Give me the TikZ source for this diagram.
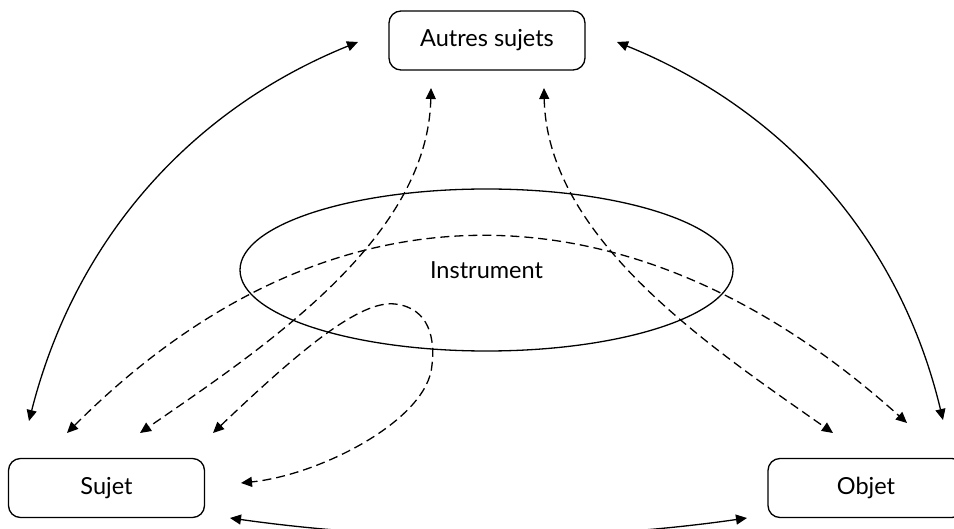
\documentclass[tikz,border=0pt]{standalone}
\usepackage{fontspec}
\setmainfont{Lato}
\usetikzlibrary{arrows.meta,shapes.geometric}
\begin{document}
\begin{tikzpicture}[x=1pt,y=-1pt,
  box/.style={draw,line width=1.3pt,rounded corners=12pt,minimum width=196pt,minimum height=59pt,inner sep=0pt,font=\fontsize{23.5}{28}\selectfont},
  oval/.style={draw,line width=1.3pt,ellipse,minimum width=493pt,minimum height=162pt,inner sep=0pt,font=\fontsize{23.5}{28}\selectfont},
  link/.style={line width=1.3pt,{Triangle[length=11pt,width=10pt]}-{Triangle[length=11pt,width=10pt]}},
  dlink/.style={link,dash pattern=on 9pt off 5pt}]
\useasboundingbox (0,0) rectangle (954,529);
\clip (0,0) rectangle (954,529);
\node[box] (autres) at (487,40.5) {Autres sujets};
\node[box] (sujet) at (106.5,488) {Sujet};
\node[box] (objet) at (866,488) {Objet};
\node[oval] (instr) at (486.5,270) {Instrument};
% free ends
\coordinate (a1) at (358,42);
\coordinate (a2) at (617,42);
\coordinate (a3) at (431,88);
\coordinate (a4) at (544,88);
\coordinate (s1) at (29,421);
\coordinate (s2) at (67,433);
\coordinate (s3) at (140,433);
\coordinate (s4) at (213,433);
\coordinate (s5) at (241,483);
\coordinate (s6) at (230,518);
\coordinate (o1) at (943,420);
\coordinate (o2) at (907,423);
\coordinate (o3) at (833,433);
\coordinate (o6) at (747,518);
% solid
\draw[link] (s1) .. controls (75,240) and (190,110) .. (a1);
\draw[link] (a2) .. controls (785,110) and (900,240) .. (o1);
\draw[link] (s6) .. controls (400,542) and (580,542) .. (o6);
% dashed
\draw[dlink] (a3) .. controls (428,240) and (260,350) .. (s3);
\draw[dlink] (a4) .. controls (547,240) and (715,350) .. (o3);
\draw[dlink] (s2) .. controls (335,165) and (639,182) .. (o2);
\draw[dlink] (s4) .. controls (300,350) and (360,300) .. (395,304)
  .. controls (430,308) and (435,340) .. (432,365)
  .. controls (428,420) and (320,475) .. (s5);
\end{tikzpicture}
\end{document}
